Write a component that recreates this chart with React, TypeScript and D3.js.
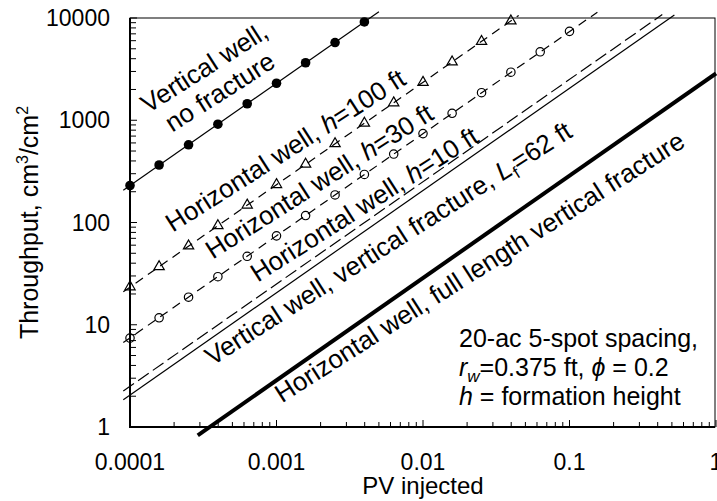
import * as d3 from 'd3';
import React from 'react';

// tick values and labels
const xTicks = [0.0001, 0.001, 0.01, 0.1, 1];
const xTickLabels = ['0.0001', '0.001', '0.01', '0.1', '1'];
const yTicks = [1, 10, 100, 1000, 10000];
const yTickLabels = ['1', '10', '100', '1000', '10000'];

// marker positions (PV injected)
const markX = [0.0001, 0.000158, 0.000251, 0.000398, 0.000631, 0.001, 0.00158, 0.00251,
  0.00398, 0.00631, 0.01, 0.0158, 0.0251, 0.0398, 0.0631, 0.1];

// throughput
const noFracY = [230, 365, 575, 915, 1450, 2300, 3650, 5750, 9150];
const h100Y = [23.5, 37, 59, 93, 148, 235, 372, 590, 935, 1480, 2350, 3720, 5900, 9350];
const h30Y = [7.4, 11.7, 18.6, 29.5, 46.7, 74, 117, 186, 295, 467, 740, 1170, 1860, 2950, 4670, 7400];

// line ends (they run a little past the frame, as in the original)
const noFracLineX = [0.00009, 0.005];
const noFracLineY = [207, 11500];
const h100LineX = [0.00009, 0.045];
const h100LineY = [21, 10600];
const h30LineX = [0.00009, 0.155];
const h30LineY = [6.7, 11400];
const h10LineX = [0.00009, 0.43];
const h10LineY = [2.25, 10800];
const fracLineX = [0.00009, 0.52];
const fracLineY = [1.85, 10700];
const fullLineX = [0.00029, 1];
const fullLineY = [0.83, 2870];

const W = 717;
const H = 501;
const left = 130, right = 716, top = 18, bottom = 427;
const font = '"Liberation Sans", Arial, sans-serif';
const ANG = -32.5;

export default function App() {
  const x = d3.scaleLog().domain([1e-4, 1]).range([left, right]);
  const y = d3.scaleLog().domain([1, 1e4]).range([bottom, top]);

  const line = d3.line<[number, number]>().x(d => x(d[0])).y(d => y(d[1]));
  const pts = (xs: number[], ys: number[]) => ys.map((v, i) => [xs[i], v] as [number, number]);

  const minorX = x.ticks().filter(t => !xTicks.includes(t));
  const minorY = y.ticks().filter(t => !yTicks.includes(t));

  const tri = d3.symbol().type(d3.symbolTriangle).size(46)();

  const rot = (px: number, py: number) => `translate(${x(px)},${y(py)}) rotate(${ANG})`;

  return (
    <svg width={W} height={H} style={{ position: 'absolute', left: 0, top: 0, background: '#fff' }}
      fontFamily={font}>
      <rect x={0} y={0} width={W} height={H} fill="#fff" />

      {/* frame */}
      <rect x={left} y={top} width={right - 1 - left} height={bottom - top} fill="none" stroke="#000" strokeWidth={1} />
      <line x1={left} x2={left} y1={top} y2={bottom + 1} stroke="#000" strokeWidth={2} />
      <line x1={left - 1} x2={right - 1} y1={bottom} y2={bottom} stroke="#000" strokeWidth={2} />

      {/* ticks */}
      {minorX.map(t => <line key={'mx' + t} x1={x(t)} x2={x(t)} y1={bottom} y2={bottom - 5} stroke="#000" />)}
      {xTicks.map(t => <line key={'Mx' + t} x1={x(t)} x2={x(t)} y1={bottom} y2={bottom - 7} stroke="#000" />)}
      {minorY.map(t => <line key={'my' + t} x1={left} x2={left + 6} y1={y(t)} y2={y(t)} stroke="#000" />)}
      {yTicks.map(t => <line key={'My' + t} x1={left} x2={left + 7} y1={y(t)} y2={y(t)} stroke="#000" />)}

      {xTicks.map((t, i) => (
        <text key={'xl' + t} x={x(t)} y={bottom + 43} textAnchor="middle" fontSize={23}>{xTickLabels[i]}</text>
      ))}
      {yTicks.map((t, i) => (
        <text key={'yl' + t} x={left - 20} y={y(t) + 8} textAnchor="end" fontSize={23}>{yTickLabels[i]}</text>
      ))}

      {/* axis titles */}
      <text x={(left + right) / 2} y={494} textAnchor="middle" fontSize={24}>PV injected</text>
      <text transform={`translate(38,${(top + bottom) / 2}) rotate(-90)`} textAnchor="middle" fontSize={25}>
        Throughput, cm<tspan dy={-10} fontSize={16}>3</tspan><tspan dy={10}>/cm</tspan><tspan dy={-10} fontSize={16}>2</tspan>
      </text>

      {/* curves */}
      <path d={line(pts(noFracLineX, noFracLineY)) || ''} fill="none" stroke="#000" strokeWidth={1.2} />
      <path d={line(pts(h100LineX, h100LineY)) || ''} fill="none" stroke="#000" strokeWidth={1.2} strokeDasharray="9,6" />
      <path d={line(pts(h30LineX, h30LineY)) || ''} fill="none" stroke="#000" strokeWidth={1.2} strokeDasharray="9,6" />
      <path d={line(pts(h10LineX, h10LineY)) || ''} fill="none" stroke="#000" strokeWidth={1.2} strokeDasharray="13,5" />
      <path d={line(pts(fracLineX, fracLineY)) || ''} fill="none" stroke="#000" strokeWidth={1.2} />
      <path d={line(pts(fullLineX, fullLineY)) || ''} fill="none" stroke="#000" strokeWidth={4} />

      {noFracY.map((v, i) => <circle key={'nf' + i} cx={x(markX[i])} cy={y(v)} r={4.8} fill="#000" />)}
      {h100Y.map((v, i) => (
        <path key={'t' + i} d={tri || ''} transform={`translate(${x(markX[i])},${y(v)})`} fill="none" stroke="#000" strokeWidth={1.2} />
      ))}
      {h30Y.map((v, i) => <circle key={'c' + i} cx={x(markX[i])} cy={y(v)} r={4.2} fill="none" stroke="#000" strokeWidth={1.2} />)}

      {/* curve labels */}
      <text transform={rot(0.000346, 2770)} textAnchor="middle" fontSize={26}>
        <tspan x={0}>Vertical well,</tspan>
        <tspan x={0} dy={29}>no fracture</tspan>
      </text>
      <text transform={rot(0.00124, 427)} textAnchor="middle" fontSize={26}>
        Horizontal well, <tspan fontStyle="italic">h</tspan>=100 ft
      </text>
      <text transform={rot(0.00211, 213)} textAnchor="middle" fontSize={26}>
        Horizontal well, <tspan fontStyle="italic">h</tspan>=30 ft
      </text>
      <text transform={rot(0.00428, 127)} textAnchor="middle" fontSize={26}>
        Horizontal well, <tspan fontStyle="italic">h</tspan>=10 ft
      </text>
      <text transform={rot(0.00624, 52.6)} textAnchor="middle" fontSize={26}>
        Vertical well, vertical fracture, <tspan fontStyle="italic">L</tspan><tspan dy={6} fontSize={17}>f</tspan><tspan dy={-6}>=62 ft</tspan>
      </text>
      <text transform={rot(0.0262, 31)} textAnchor="middle" fontSize={26}>
        Horizontal well, full length vertical fracture
      </text>

      {/* note */}
      <g fontSize={25}>
        <text x={459} y={347}>20-ac 5-spot spacing,</text>
        <text x={459} y={376}>
          <tspan fontStyle="italic">r</tspan><tspan dy={6} fontSize={17} fontStyle="italic">w</tspan><tspan dy={-6}>=0.375 ft, </tspan>
          <tspan fontStyle="italic">ϕ</tspan> = 0.2
        </text>
        <text x={459} y={405}><tspan fontStyle="italic">h</tspan> = formation height</text>
      </g>
    </svg>
  );
}
